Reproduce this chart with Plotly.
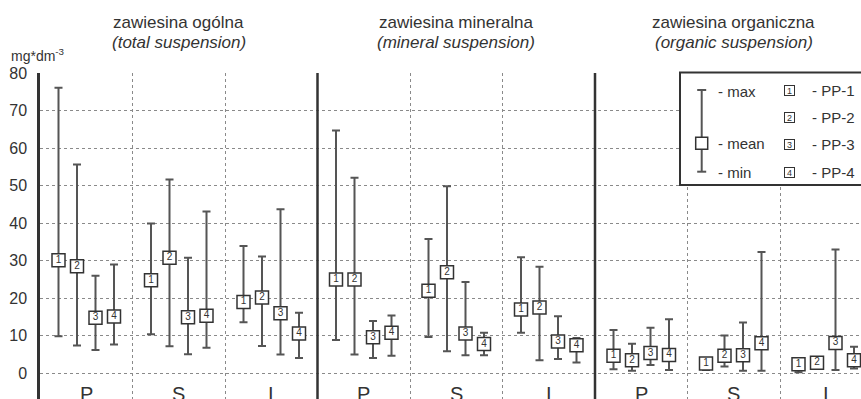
import plotly.graph_objects as go

# Suspended solids at three sites (P, S, I), four sampling points PP-1..PP-4
sites = ["P", "S", "I"]
series = ["PP-1", "PP-2", "PP-3", "PP-4"]
panel_titles = ["zawiesina ogólna", "zawiesina mineralna", "zawiesina organiczna"]
panel_subtitles = ["total suspension", "mineral suspension", "organic suspension"]

# rows: PP-1..PP-4, columns: P, S, I  (mg*dm-3)
total_mean = [[30.1, 24.8, 19.0], [28.5, 30.8, 20.2], [14.8, 14.9, 16.0], [15.1, 15.3, 10.6]]
total_min = [[9.9, 10.4, 13.6], [7.4, 7.2, 7.3], [6.2, 5.1, 5.0], [7.7, 6.8, 4.1]]
total_max = [[76.1, 39.9, 33.9], [55.6, 51.6, 31.1], [26.0, 30.8, 43.7], [29.0, 43.1, 16.1]]

mineral_mean = [[25.0, 22.0, 17.0], [25.0, 26.9, 17.5], [9.6, 10.6, 8.5], [10.8, 7.8, 7.5]]
mineral_min = [[8.9, 9.7, 10.8], [5.0, 5.9, 3.5], [4.1, 4.8, 3.8], [4.7, 4.8, 2.9]]
mineral_max = [[64.7, 35.8, 30.9], [52.1, 49.8, 28.4], [13.9, 24.3, 15.2], [15.4, 10.8, 9.4]]

organic_mean = [[4.7, 2.6, 2.4], [3.5, 4.7, 2.8], [5.4, 4.8, 8.1], [4.9, 8.0, 3.5]]
organic_min = [[1.1, 0.9, 0.3], [0.7, 1.8, 1.8], [2.2, 0.7, 0.9], [0.9, 0.7, 1.3]]
organic_max = [[11.5, 3.8, 3.0], [7.9, 10.1, 3.9], [12.1, 13.5, 33.0], [14.4, 32.3, 7.1]]

y_ticks = [0, 10, 20, 30, 40, 50, 60, 70, 80]

panels = [
    (total_mean, total_min, total_max),
    (mineral_mean, mineral_min, mineral_max),
    (organic_mean, organic_min, organic_max),
]

INK = "#333333"
BAR = "#555555"
FONT = "Arial, Liberation Sans, sans-serif"
SPACING = 0.2  # offset between sampling points inside one site group

fig = go.Figure()

for p, (mean, mn, mx) in enumerate(panels):
    for k, name in enumerate(series):
        xs = [p * 3 + s + 0.5 + (k - 1.5) * SPACING for s in range(len(sites))]
        ys = mean[k]
        up = [mx[k][s] - mean[k][s] for s in range(len(sites))]
        down = [mean[k][s] - mn[k][s] for s in range(len(sites))]
        fig.add_trace(go.Scatter(
            x=xs, y=ys, mode="markers+text",
            text=[str(k + 1)] * len(sites),
            textposition="middle center",
            textfont=dict(size=10, color=INK, family=FONT),
            marker=dict(symbol="square", size=13, color="white",
                        line=dict(width=1.5, color=INK)),
            error_y=dict(type="data", symmetric=False, array=up, arrayminus=down,
                         color=BAR, thickness=2, width=4),
            name=name, showlegend=False, hoverinfo="skip",
        ))

XMAX = (861 - 40) / 92.5

shapes = []
# solid panel dividers
for xv in [3, 6]:
    shapes.append(dict(type="line", xref="x", yref="y", x0=xv, x1=xv, y0=-10, y1=80,
                       line=dict(color=INK, width=2.5), layer="above"))

# key box (paper coordinates; plot area spans x 40..861 px, y 73..399 px)
def px(xp):
    return (xp - 40) / 821

def py(yp):
    return (399 - yp) / 326

shapes.append(dict(type="rect", xref="paper", yref="paper", x0=px(680), x1=1.2,
                   y0=py(185), y1=py(72.5), fillcolor="white",
                   line=dict(color=INK, width=2), layer="above"))
gx = 701.7
shapes.append(dict(type="line", xref="paper", yref="paper", x0=px(gx), x1=px(gx),
                   y0=py(171.7), y1=py(90), line=dict(color=BAR, width=2), layer="above"))
for cy in [90, 171.7]:
    shapes.append(dict(type="line", xref="paper", yref="paper", x0=px(gx - 4.5), x1=px(gx + 4.5),
                       y0=py(cy), y1=py(cy), line=dict(color=BAR, width=2), layer="above"))
shapes.append(dict(type="rect", xref="paper", yref="paper", x0=px(gx - 6), x1=px(gx + 6),
                   y0=py(149.3), y1=py(137.3), fillcolor="white",
                   line=dict(color=INK, width=1.5), layer="above"))

annotations = []
for p in range(3):
    annotations.append(dict(x=p * 3 + 1.5, xref="x", y=py(22), yref="paper",
                            text=panel_titles[p], showarrow=False, yanchor="middle",
                            font=dict(size=17, color=INK, family=FONT)))
    annotations.append(dict(x=p * 3 + 1.5, xref="x", y=py(42), yref="paper",
                            text="<i>(" + panel_subtitles[p] + ")</i>", showarrow=False,
                            yanchor="middle", font=dict(size=17, color=INK, family=FONT)))
    for s, lab in enumerate(sites):
        annotations.append(dict(x=p * 3 + s + 0.5, xref="x", y=py(381), yref="paper",
                                text=lab, showarrow=False, yanchor="top",
                                font=dict(size=20, color=INK, family=FONT)))

annotations.append(dict(x=px(9), xref="paper", y=py(55), yref="paper", xanchor="left",
                        text="mg*dm<sup>-3</sup>", showarrow=False, yanchor="middle",
                        font=dict(size=14, color=INK, family=FONT)))

for lab, yy in [("- max", 91), ("- mean", 143), ("- min", 172)]:
    annotations.append(dict(x=px(716), xref="paper", y=py(yy), yref="paper", xanchor="left",
                            text=lab, showarrow=False, yanchor="middle",
                            font=dict(size=15, color=INK, family=FONT)))
for k, (name, yy) in enumerate(zip(series, [90, 117, 144, 172])):
    annotations.append(dict(x=px(795), xref="paper", y=py(yy), yref="paper",
                            text=str(k + 1), showarrow=False, yanchor="middle",
                            width=9, height=9, align="center", valign="middle",
                            bordercolor=INK, borderwidth=1, borderpad=0, bgcolor="white",
                            font=dict(size=9, color=INK, family=FONT)))
    annotations.append(dict(x=px(810), xref="paper", y=py(yy), yref="paper", xanchor="left",
                            text="- " + name, showarrow=False, yanchor="middle",
                            font=dict(size=15, color=INK, family=FONT)))

fig.update_layout(
    width=861, height=399,
    margin=dict(l=40, r=0, t=73, b=0),
    paper_bgcolor="white", plot_bgcolor="white",
    shapes=shapes, annotations=annotations,
    xaxis=dict(range=[0, XMAX], tickvals=[1, 2, 4, 5, 7, 8], showticklabels=False,
               showgrid=True, griddash="dot", gridcolor="#8a8a8a", gridwidth=1,
               zeroline=False, showline=False, ticks=""),
    yaxis=dict(range=[-6.85, 80], tickvals=y_ticks, showgrid=True, griddash="dot",
               gridcolor="#8a8a8a", gridwidth=1, zeroline=False,
               showline=True, linecolor=INK, linewidth=2.5,
               ticks="outside", ticklen=7, tickcolor="rgba(0,0,0,0)",
               tickfont=dict(size=16, color=INK, family=FONT)),
    font=dict(family=FONT, color=INK),
)

fig.write_html("out.html")
